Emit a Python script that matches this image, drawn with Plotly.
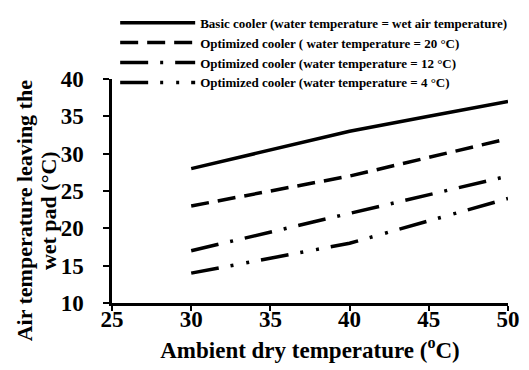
import plotly.graph_objects as go

ambient = [30, 35, 40, 45, 50]
basic = [28, 30.5, 33, 35, 37]
opt20 = [23, 25, 27, 29.5, 32]
opt12 = [17, 19.5, 22, 24.5, 27]
opt4 = [14, 16, 18, 21, 24]

names = [
    "Basic cooler (water temperature = wet air temperature)",
    "Optimized cooler ( water temperature = 20 °C)",
    "Optimized cooler (water temperature = 12 °C)",
    "Optimized cooler (water temperature = 4 °C)",
]
series = [basic, opt20, opt12, opt4]
dashes = ["solid", "18px,9px", "28px,12px,3px,12px", "28px,12px,3px,13px,3px,12px"]
ytitle_lines = ["Air temperature leaving the", "wet pad (°C)"]

FONT = "Liberation Serif"

fig = go.Figure()
for i, (nm, ys, d) in enumerate(zip(names, series, dashes)):
    fig.add_trace(go.Scatter(
        x=ambient, y=ys, mode="lines", name=nm, legendgroup=f"g{i}",
        line=dict(color="black", width=3.5, dash=d),
    ))

for txt, px in zip(ytitle_lines, [-0.222, -0.162]):
    fig.add_annotation(
        text=txt, xref="paper", yref="paper", x=px, y=0.414,
        xanchor="center", yanchor="middle", textangle=-90, showarrow=False,
        font=dict(family=FONT, size=22, color="black", weight="bold"),
    )

fig.update_layout(
    width=521, height=362,
    margin=dict(l=104, r=21, t=71, b=67, autoexpand=False),
    paper_bgcolor="white", plot_bgcolor="white",
    font=dict(family=FONT, color="black"),
    showlegend=True,
    legend=dict(
        x=0.008, y=1.318, xanchor="left", yanchor="top",
        bgcolor="white", borderwidth=0, itemwidth=75,
        font=dict(family=FONT, size=13, color="black", weight="bold"),
        traceorder="grouped", tracegroupgap=0,
    ),
    xaxis=dict(
        range=[25, 50], tickvals=[25, 30, 35, 40, 45, 50], automargin=False,
        showgrid=False, zeroline=False, showline=True, linecolor="black", linewidth=2.5,
        ticks="outside", ticklen=5, tickwidth=2, tickcolor="black", ticklabelstandoff=-11,
        tickfont=dict(family=FONT, size=23, color="black", weight="bold"),
        title=dict(text="Ambient dry temperature (<sup>o</sup>C)", standoff=11,
                   font=dict(family=FONT, size=23, color="black", weight="bold")),
    ),
    yaxis=dict(
        range=[10, 40], tickvals=[10, 15, 20, 25, 30, 35, 40], automargin=False,
        showgrid=False, zeroline=False, showline=True, linecolor="black", linewidth=2.5,
        ticks="outside", ticklen=6, tickwidth=2, tickcolor="black", ticklabelstandoff=15,
        tickfont=dict(family=FONT, size=23, color="black", weight="bold"),
    ),
)

fig.write_html("out.html")
